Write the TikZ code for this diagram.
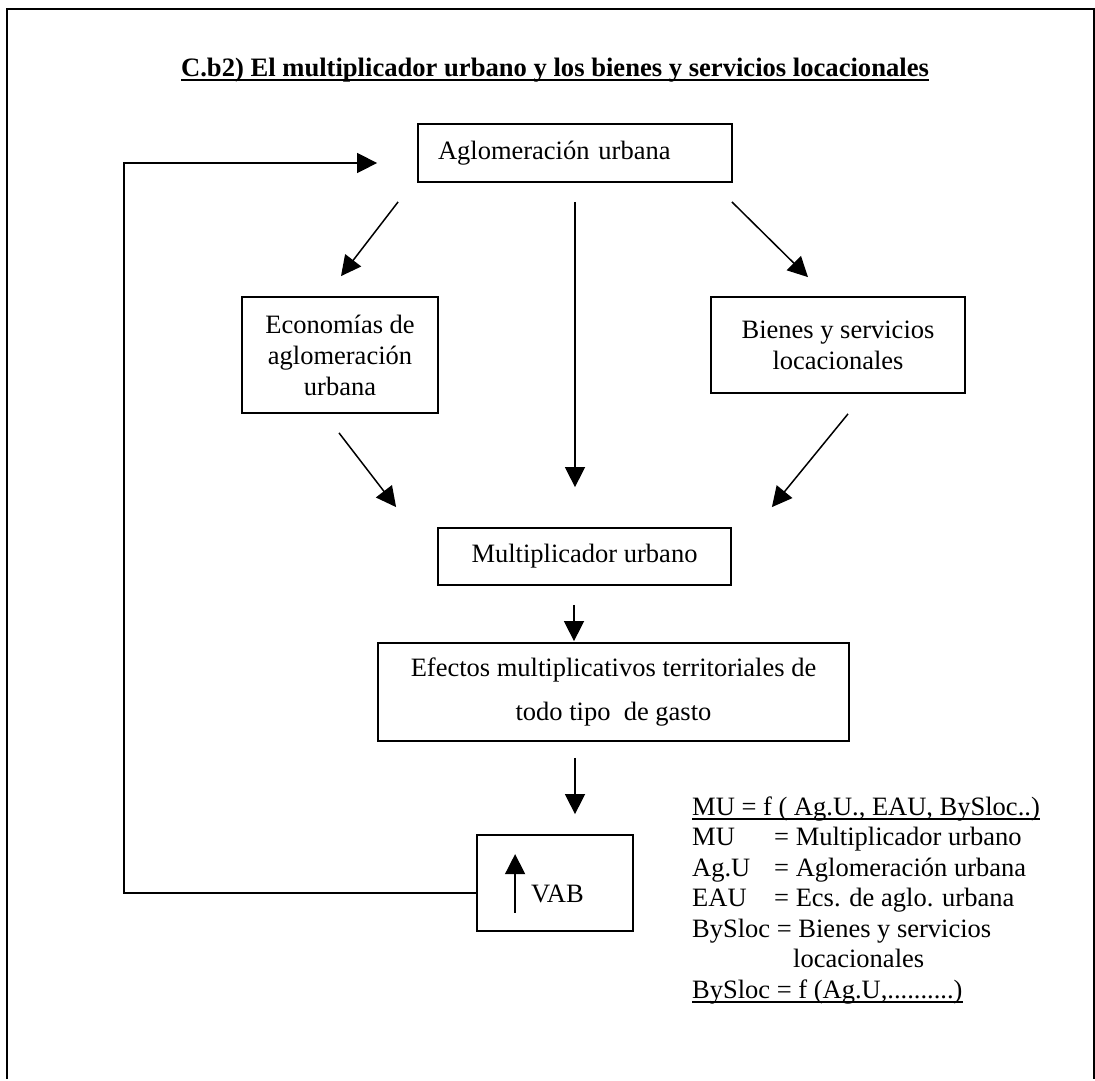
\documentclass[tikz,border=0pt]{standalone}
\usepackage{fontspec}
\setmainfont{Liberation Serif}
\usetikzlibrary{arrows.meta,calc}

\newcommand{\undertext}[3]{\setbox0=\hbox{#3}\rlap{\rule[-#1]{\wd0}{#2}}\box0}

\begin{document}
\begin{tikzpicture}
[
	x=1pt, y=-1pt,
% Box style
	box/.style={
		draw,
		line width=1.8pt,
		inner sep=0pt,
		align=center,
		font=\fontsize{26.5pt}{31pt}\selectfont},
% Arrow style
	arrowline/.style={
		line width=1.5pt,
		-{Triangle[length=20pt,width=20pt]}},
% Text styles
	title/.style={
		font=\bfseries\fontsize{26.6pt}{31pt}\selectfont,
		inner sep=0pt},
	legend/.style={
		font=\fontsize{26.5pt}{31pt}\selectfont,
		inner sep=0pt},
]

% Page and frame
\fill[white] (0,0) rectangle (1095,1079);
\draw[line width=2pt] (7,1079) -- (7,9) -- (1094,9) -- (1094,1079);

% Title
\node[title, anchor=base] (title) at (555,76)
	{\undertext{5pt}{2.5pt}{C.b2) El multiplicador urbano y los bienes y servicios locacionales}};

% Boxes
\node[box, minimum width=314, minimum height=58,
	text width=274, align=left] (agl) at (575,153) {Aglomeración urbana};

\node[box, minimum width=196, minimum height=116] (eco) at (340,355)
	{Economías de\\aglomeración\\urbana};

\node[box, minimum width=254, minimum height=96] (bys) at (838,345)
	{Bienes y servicios\\locacionales};

\node[box, minimum width=293, minimum height=57] (mu) at (584.5,556.5)
	{Multiplicador urbano};

\node[box, minimum width=471, minimum height=98,
	font=\fontsize{26.5pt}{44pt}\selectfont] (efe) at (613.5,692)
	{Efectos multiplicativos territoriales de\\todo tipo~ de gasto};

\node[box, minimum width=156, minimum height=96] (vab) at (555,883) {};
\node[legend, anchor=base west] (vabtext) at (531,902) {VAB};

% Arrows
\draw [arrowline] ($(agl.south west)+(-19,19)$) -- ($(eco.north)+(1,-20)$);
\draw [arrowline] ($(agl.south)+(0,19)$) -- ($(mu.north)+(-9.5,-40)$);
\draw [arrowline] ($(agl.south east)+(-1,19)$) -- ($(bys.north)+(-30,-19)$);

\draw [arrowline] ($(eco.south)+(-1,19)$) -- ($(mu.north west)+(-41,-20)$);
\draw [arrowline] ($(bys.south)+(10,20)$) -- ($(mu.north east)+(40,-20)$);

\draw [arrowline] ($(mu.south)+(-10.5,19)$) -- ($(efe.north)+(-39.5,-1)$);
\draw [arrowline] ($(efe.south)+(-38.5,16)$) -- ($(vab.north)+(20,-20)$);

% Up arrow inside the VAB box
\draw [arrowline] ($(vab.south west)+(39,-19)$) -- ($(vab.north west)+(39,20)$);

% Feedback loop
\draw [arrowline] ($(vab.west)+(0,10)$) -| ($(agl.west)+(-293,10)$)
	-- ($(agl.west)+(-40,10)$);

% Legend
\foreach \txt [count=\i] in {
	{\undertext{4.7pt}{1.5pt}{MU = f ( Ag.U., EAU, BySloc..)}},
	{\makebox[82pt][l]{MU}= Multiplicador urbano},
	{\makebox[82pt][l]{Ag.U}= Aglomeración urbana},
	{\makebox[82pt][l]{EAU}= Ecs. de aglo. urbana},
	{BySloc = Bienes y servicios},
	{\hspace*{101pt}locacionales},
	{\undertext{4.7pt}{1.5pt}{BySloc = f (Ag.U,..........)}}}
	\node[legend, anchor=base west] (leg\i) at (692,{815+30.5*(\i-1)}) {\txt};

\end{tikzpicture}
\end{document}
